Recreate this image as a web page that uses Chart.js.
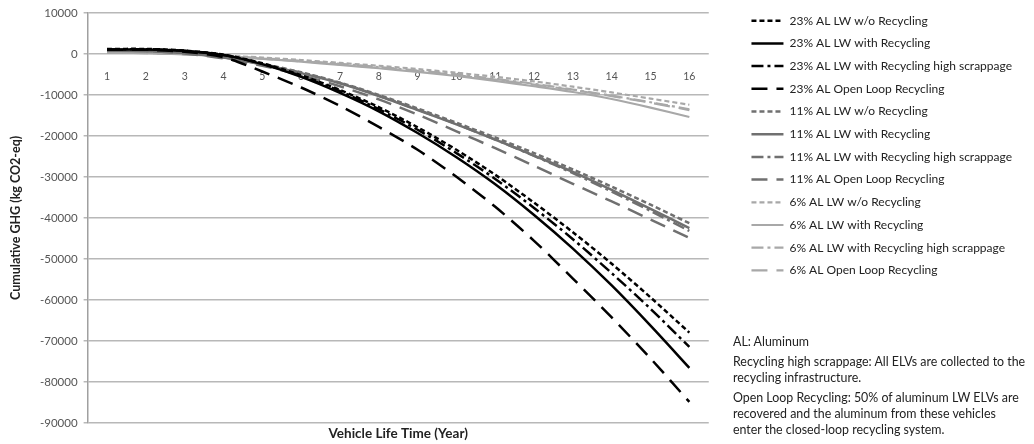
<!DOCTYPE html>
<html>
<head>
<meta charset="utf-8">
<script src="https://cdn.jsdelivr.net/npm/chart.js@4.4.0/dist/chart.umd.min.js"></script>
<style>
  html, body { margin: 0; padding: 0; background: #fff; }
  #wrap { position: relative; width: 1034px; height: 444px; }
  #notes {
    position: absolute; left: 733px; top: 334px; width: 301px;
    font-family: Lato, 'Liberation Sans', sans-serif; font-size: 12.4px;
    color: #222; line-height: 16px;
  }
  #notes p { margin: 0 0 4px 0; white-space: nowrap; }
</style>
</head>
<body>
<div id="wrap">
  <canvas id="myChart" width="1034" height="444"></canvas>
  <div id="notes">
    <p>AL: Aluminum</p>
    <p>Recycling high scrappage: All ELVs are collected to the<br>recycling infrastructure.</p>
    <p>Open Loop Recycling: 50% of aluminum LW ELVs are<br>recovered and the aluminum from these vehicles<br>enter the closed-loop recycling system.</p>
  </div>
</div>
<script>
// Años de vida del vehículo
const years = ['1', '2', '3', '4', '5', '6', '7', '8', '9', '10', '11', '12', '13', '14', '15', '16'];

// Eje Y (kg CO2-eq)
const yMin = -90000;
const yMax = 10000;
const yStep = 10000;

// 23% AL
const al23NoRec     = [1200, 1200, 800, -200, -2300, -5200, -8800, -13000, -17900, -23400, -29500, -36300, -43500, -51200, -59400, -68000];
const al23Rec       = [1000, 1100, 700, -300, -2500, -5600, -9500, -14000, -19300, -25200, -31800, -39300, -47500, -56500, -66300, -76600];
const al23HighScrap = [1100, 1150, 750, -250, -2400, -5400, -9100, -13500, -18500, -24200, -30500, -37600, -45200, -53500, -62200, -71500];
const al23OpenLoop  = [1000, 1000, 500, -800, -4300, -8200, -12700, -17800, -23400, -30000, -37300, -45600, -54800, -64300, -74300, -84900];

// 11% AL
const al11NoRec     = [900, 800, 300, -800, -2400, -4500, -7000, -10000, -13300, -16800, -20400, -24200, -28200, -32400, -36800, -41300];
const al11Rec       = [800, 700, 200, -900, -2600, -4700, -7200, -10300, -13700, -17200, -20900, -24800, -28800, -33200, -37800, -42500];
const al11HighScrap = [850, 750, 250, -850, -2500, -4600, -7100, -10200, -13600, -17100, -20900, -24900, -29100, -33600, -38300, -43200];
const al11OpenLoop  = [800, 700, 100, -1100, -2900, -5200, -7900, -11100, -14800, -18900, -23000, -27300, -31700, -36000, -40400, -44900];

// 6% AL
const al6NoRec      = [400, 300, 0, -400, -900, -1500, -2200, -2900, -3700, -4600, -5600, -6700, -8000, -9400, -10900, -12400];
const al6Rec        = [300, 200, -100, -600, -1200, -1900, -2700, -3500, -4400, -5400, -6600, -7900, -9300, -11000, -13100, -15400];
const al6HighScrap  = [350, 250, -50, -500, -1050, -1700, -2450, -3200, -4050, -5000, -6100, -7300, -8700, -10200, -11800, -13500];
const al6OpenLoop   = [300, 200, -100, -600, -1150, -1800, -2550, -3350, -4200, -5200, -6300, -7500, -8800, -10300, -11900, -13700];

// Estilos de línea
const dashNoRec = [5, 3];
const dashSolid = [];
const dashHighScrap = [12, 4, 3, 4];
const dashOpenLoop = [16, 9];

function serie(label, data, color, dash, width) {
    return {
        label: label,
        data: data,
        borderColor: color,
        backgroundColor: color,
        borderWidth: width,
        borderDash: dash,
        pointRadius: 0,
        pointHoverRadius: 0,
        fill: false,
        tension: 0.3,
        xAxisID: 'x'
    };
}

const datasets = [
    serie('23% AL LW w/o Recycling', al23NoRec, '#000000', dashNoRec, 2.5),
    serie('23% AL LW with Recycling', al23Rec, '#000000', dashSolid, 2.5),
    serie('23% AL LW with Recycling high scrappage', al23HighScrap, '#000000', dashHighScrap, 2.5),
    serie('23% AL Open Loop Recycling', al23OpenLoop, '#000000', dashOpenLoop, 2.5),
    serie('11% AL LW w/o Recycling', al11NoRec, '#707070', dashNoRec, 2.5),
    serie('11% AL LW with Recycling', al11Rec, '#707070', dashSolid, 2.5),
    serie('11% AL LW with Recycling high scrappage', al11HighScrap, '#707070', dashHighScrap, 2.5),
    serie('11% AL Open Loop Recycling', al11OpenLoop, '#707070', dashOpenLoop, 2.5),
    serie('6% AL LW w/o Recycling', al6NoRec, '#a8a8a8', dashNoRec, 2.2),
    serie('6% AL LW with Recycling', al6Rec, '#a8a8a8', dashSolid, 2.2),
    serie('6% AL LW with Recycling high scrappage', al6HighScrap, '#a8a8a8', dashHighScrap, 2.2),
    serie('6% AL Open Loop Recycling', al6OpenLoop, '#a8a8a8', dashOpenLoop, 2.2)
];

// Separación entre el gráfico y la leyenda
const legendGap = 32;
const legendGapPlugin = {
    id: 'legendGap',
    beforeUpdate(chart) {
        if (chart.legend && !chart.legend._gapPatched) {
            const fit = chart.legend.fit;
            chart.legend.fit = function () {
                fit.call(this);
                this.width += legendGap;
            };
            chart.legend._gapPatched = true;
        }
    },
    afterLayout(chart) {
        if (chart.legend) chart.legend.left += legendGap;
    }
};

const fontFam = "Lato, 'Liberation Sans', sans-serif";
const ctx = document.getElementById('myChart').getContext('2d');

window.myChart = new Chart(ctx, {
    type: 'line',
    data: { labels: years, datasets: datasets },
    plugins: [legendGapPlugin],
    options: {
        responsive: false,
        animation: false,
        layout: { padding: { top: 4, right: 12, left: 8, bottom: 2 } },
        plugins: {
            legend: {
                position: 'right',
                align: 'start',
                maxWidth: 420,
                labels: {
                    usePointStyle: true,
                    pointStyle: 'line',
                    pointStyleWidth: 32,
                    padding: 10.7,
                    color: '#222',
                    font: { family: fontFam, size: 12 },
                    // Usa el trazo de cada serie (guiones) en la muestra de la leyenda
                    generateLabels(chart) {
                        const items = Chart.defaults.plugins.legend.labels.generateLabels(chart);
                        items.forEach((item) => {
                            const ds = chart.data.datasets[item.datasetIndex];
                            item.lineDash = ds.borderDash;
                            item.lineWidth = ds.borderWidth;
                            item.strokeStyle = ds.borderColor;
                            item.pointStyle = 'line';
                        });
                        return items;
                    }
                }
            },
            tooltip: { enabled: false }
        },
        scales: {
            x: {
                type: 'category',
                position: { y: 0 },
                offset: true,
                grid: { display: false, drawTicks: false },
                border: { display: false },
                ticks: {
                    padding: 16,
                    color: '#555',
                    font: { family: fontFam, size: 10.5 },
                    maxRotation: 0,
                    autoSkip: false
                }
            },
            x2: {
                type: 'category',
                position: 'bottom',
                offset: true,
                grid: { display: false, drawTicks: false },
                border: { display: false },
                ticks: { display: false },
                title: {
                    display: true,
                    text: 'Vehicle Life Time (Year)',
                    color: '#222',
                    font: { family: fontFam, size: 13.5, weight: 'bold' },
                    padding: { top: 3, bottom: 0 }
                }
            },
            y: {
                min: yMin,
                max: yMax,
                ticks: {
                    stepSize: yStep,
                    color: '#555',
                    font: { family: fontFam, size: 11.5 },
                    padding: 6,
                    callback: (v) => String(v)
                },
                grid: { color: '#b8b8b8', lineWidth: 1.5, tickLength: 4 },
                border: { color: '#a0a0a0', width: 1.5 },
                title: {
                    display: true,
                    text: 'Cumulative GHG (kg CO2-eq)',
                    color: '#222',
                    font: { family: fontFam, size: 12.5, weight: 'bold' },
                    padding: { top: 0, bottom: 11 }
                }
            }
        }
    }
});
</script>
</body>
</html>
